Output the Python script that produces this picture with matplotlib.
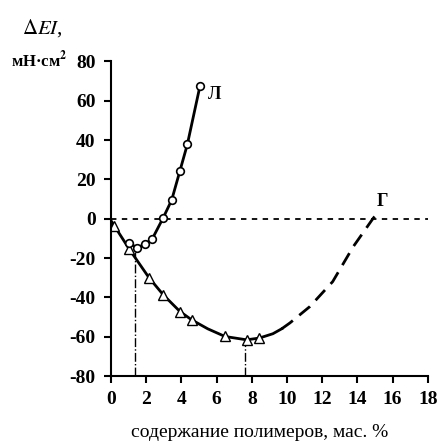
import matplotlib.pyplot as plt

# curve "Л" (circles)
l_x = [1.0, 1.5, 1.93, 2.35, 2.97, 3.45, 3.92, 4.34, 5.06]
l_y = [-12.5, -14.7, -13.0, -10.2, 0.5, 9.5, 24.4, 37.8, 67.6]

# curve "Г" (triangles), measured points
g_x = [0.19, 1.04, 2.16, 2.97, 3.92, 4.58, 6.48, 7.71, 8.43]
g_y = [-3.6, -15.5, -30.0, -38.7, -47.2, -51.4, -59.9, -61.6, -60.7]

# solid trend line for "Г"
g_line_x = [0.0, 0.19, 1.04, 2.16, 2.97, 3.92, 4.58, 5.5, 6.48, 7.71, 8.43, 9.2, 9.7]
g_line_y = [-1.0, -3.6, -15.5, -30.0, -38.7, -47.2, -51.4, -56.0, -59.9, -61.6, -60.7, -58.5, -56.0]

# dashed extrapolation for "Г"
g_ext_x = [9.7, 10.17, 11.3, 12.6, 13.77, 14.9, 15.2]
g_ext_y = [-56.0, -53.0, -44.7, -32.0, -14.2, 0.2, 3.5]

# dash-dot markers of the characteristic concentrations
v_x = [1.35, 7.6]
v_top = [-17.0, -62.0]

x_ticks = list(range(0, 19, 2))
y_ticks = list(range(-80, 81, 20))

plt.rcParams["font.family"] = ["Liberation Serif", "DejaVu Serif"]
plt.rcParams["axes.unicode_minus"] = False

fig = plt.figure(figsize=(4.38, 4.42), dpi=100)
ax = fig.add_axes([0.2534, 0.1493, 0.7231, 0.7118])

ax.axhline(0, color="black", linestyle=(0, (3, 3)), linewidth=1.3)
for vx, vt in zip(v_x, v_top):
    ax.plot([vx, vx], [-80, vt], color="black", linestyle="-.", linewidth=1.0)

ax.plot(g_line_x, g_line_y, color="black", linewidth=2.0)
ax.plot(g_ext_x, g_ext_y, color="black", linewidth=2.0, linestyle=(0, (5, 3)))
ax.plot(g_x, g_y, linestyle="none", marker="^", markersize=7,
        markerfacecolor="white", markeredgecolor="black", markeredgewidth=1.0)

ax.plot(l_x, l_y, color="black", linewidth=2.0, marker="o", markersize=5.5,
        markerfacecolor="white", markeredgecolor="black", markeredgewidth=1.2)

ax.text(5.5, 63, "Л", fontsize=13, fontweight="bold", ha="left", va="center")
ax.text(15.45, 8.5, "Г", fontsize=13, fontweight="bold", ha="center", va="center")

ax.set_xlim(0, 18)
ax.set_ylim(-80, 80)
ax.set_xticks(x_ticks)
ax.set_yticks(y_ticks)
for s in ("top", "right"):
    ax.spines[s].set_visible(False)
for s in ("left", "bottom"):
    ax.spines[s].set_linewidth(1.5)
ax.tick_params(direction="out", length=5, width=1.5, labelsize=14, pad=6)
for lab in ax.get_xticklabels() + ax.get_yticklabels():
    lab.set_fontweight("bold")

fig.text(0.592, 0.022, "содержание полимеров, мас. %", fontsize=14,
         ha="center", va="center")

fig.text(0.096, 0.937, r"$\Delta\mathit{EI}$,", fontsize=15, ha="center",
         va="center", math_fontfamily="stix")
fig.text(0.09, 0.864, r"мН·см$^\mathbf{2}$", fontsize=12, fontweight="bold",
         ha="center", va="center", math_fontfamily="stix")

fig.savefig("out.png", dpi=100, facecolor="white")
